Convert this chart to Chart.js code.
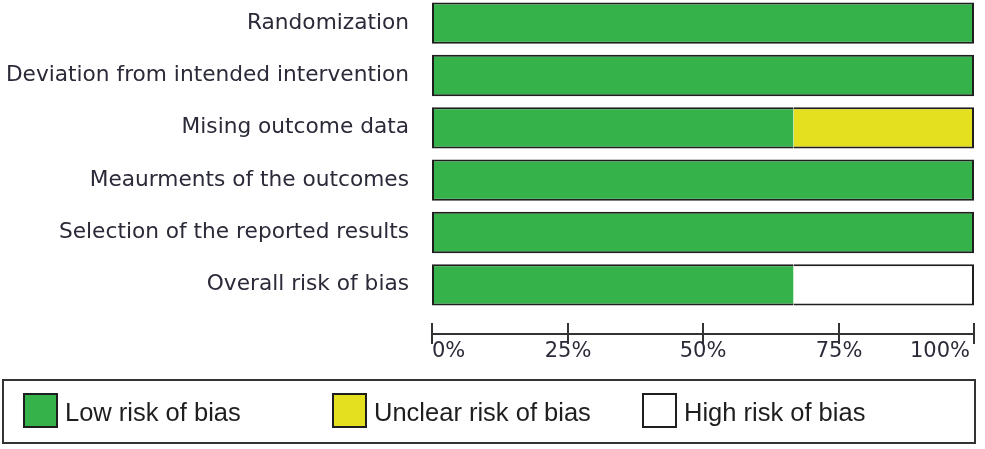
<!DOCTYPE html>
<html>
<head>
<meta charset="utf-8">
<script src="https://cdn.jsdelivr.net/npm/chart.js@4/dist/chart.umd.min.js"></script>
<style>
  html, body { margin: 0; padding: 0; background: #fff; overflow: hidden; }
  #wrap { width: 985px; height: 449px; overflow: hidden; }
  /* canvas starts 3px above the page so the first bar can sit at the very top */
  #chart { display: block; margin-top: -3px; }
</style>
</head>
<body>
<div id="wrap"><canvas id="chart" width="985" height="452"></canvas></div>
<script>
const domains = [
  "Randomization",
  "Deviation from intended intervention",
  "Mising outcome data",
  "Meaurments of the outcomes",
  "Selection of the reported results",
  "Overall risk of bias",
];
const lowRisk = [100, 100, 66.7, 100, 100, 66.7];
const unclearRisk = [0, 0, 33.3, 0, 0, 0];
const highRisk = [0, 0, 0, 0, 0, 33.3];
const xTicks = [0, 25, 50, 75, 100];
const seriesNames = ["Low risk of bias", "Unclear risk of bias", "High risk of bias"];

const GREEN = "#35b24a";
const YELLOW = "#e4e01f";
const EDGE = "#1e1e1e";
const TEXT = "#2a2a38";
const DY = 3; // canvas offset

// outline the whole stacked bar, not each segment
function borderFor(ctx) {
  const ds = ctx.chart.data.datasets;
  const i = ctx.dataIndex;
  const d = ctx.datasetIndex;
  if (!ds[d].data[i]) return 0;
  let first = true, last = true;
  for (let k = 0; k < d; k++) if (ds[k].data[i]) first = false;
  for (let k = d + 1; k < ds.length; k++) if (ds[k].data[i]) last = false;
  return { top: 2, bottom: 2, left: first ? 2 : 0, right: last ? 2 : 0 };
}

const axisAndLegend = {
  id: "axisAndLegend",
  afterDraw(chart) {
    const c = chart.ctx;
    const x = chart.scales.x;
    const axisY = 334 + DY;
    c.save();
    c.strokeStyle = "#333";
    c.lineWidth = 2;
    c.beginPath();
    c.moveTo(x.getPixelForValue(xTicks[0]), axisY);
    c.lineTo(x.getPixelForValue(xTicks[xTicks.length - 1]), axisY);
    c.stroke();
    c.font = "21px 'DejaVu Sans'";
    c.fillStyle = TEXT;
    c.textBaseline = "alphabetic";
    xTicks.forEach((v, k) => {
      const px = Math.round(x.getPixelForValue(v));
      c.beginPath();
      c.moveTo(px, axisY - 11);
      c.lineTo(px, axisY + 10);
      c.stroke();
      c.textAlign = k === 0 ? "left" : (k === xTicks.length - 1 ? "right" : "center");
      c.fillText(v + "%", k === xTicks.length - 1 ? px - 4 : px, 357 + DY);
    });

    // legend
    c.strokeStyle = "#333";
    c.lineWidth = 2;
    c.strokeRect(3, 380 + DY, 972, 63);
    const itemX = [23, 332, 642];
    c.font = "25.5px 'Liberation Sans'";
    c.textAlign = "left";
    c.textBaseline = "alphabetic";
    chart.data.datasets.forEach((ds, k) => {
      c.fillStyle = ds.backgroundColor;
      c.fillRect(itemX[k], 393 + DY, 35, 35);
      c.strokeStyle = EDGE;
      c.lineWidth = 2;
      c.strokeRect(itemX[k] + 1, 394 + DY, 33, 33);
      c.fillStyle = "#1e1e1e";
      c.fillText(ds.label, itemX[k] + 42, 421 + DY);
    });
    c.restore();
  },
};

new Chart(document.getElementById("chart"), {
  type: "bar",
  data: {
    labels: domains,
    datasets: [
      { label: seriesNames[0], data: lowRisk, backgroundColor: GREEN },
      { label: seriesNames[1], data: unclearRisk, backgroundColor: YELLOW },
      { label: seriesNames[2], data: highRisk, backgroundColor: "#ffffff" },
    ],
  },
  options: {
    indexAxis: "y",
    responsive: false,
    animation: false,
    layout: { padding: { top: 0, right: 11, bottom: 138, left: 0 } },
    datasets: {
      bar: {
        categoryPercentage: 1,
        barPercentage: 0.79,
        borderColor: EDGE,
        borderWidth: borderFor,
        borderSkipped: false,
      },
    },
    scales: {
      x: { stacked: true, min: 0, max: 100, display: false },
      y: {
        stacked: true,
        grid: { display: false },
        border: { display: false },
        ticks: {
          color: TEXT,
          padding: 15,
          font: { family: "DejaVu Sans", size: 21.7 },
        },
        afterFit(scale) {
          scale.width = 432;
          scale.paddingTop = 0;
          scale.paddingBottom = 0;
        },
      },
    },
    plugins: {
      legend: { display: false },
      tooltip: { enabled: false },
    },
  },
  plugins: [axisAndLegend],
});
</script>
</body>
</html>
